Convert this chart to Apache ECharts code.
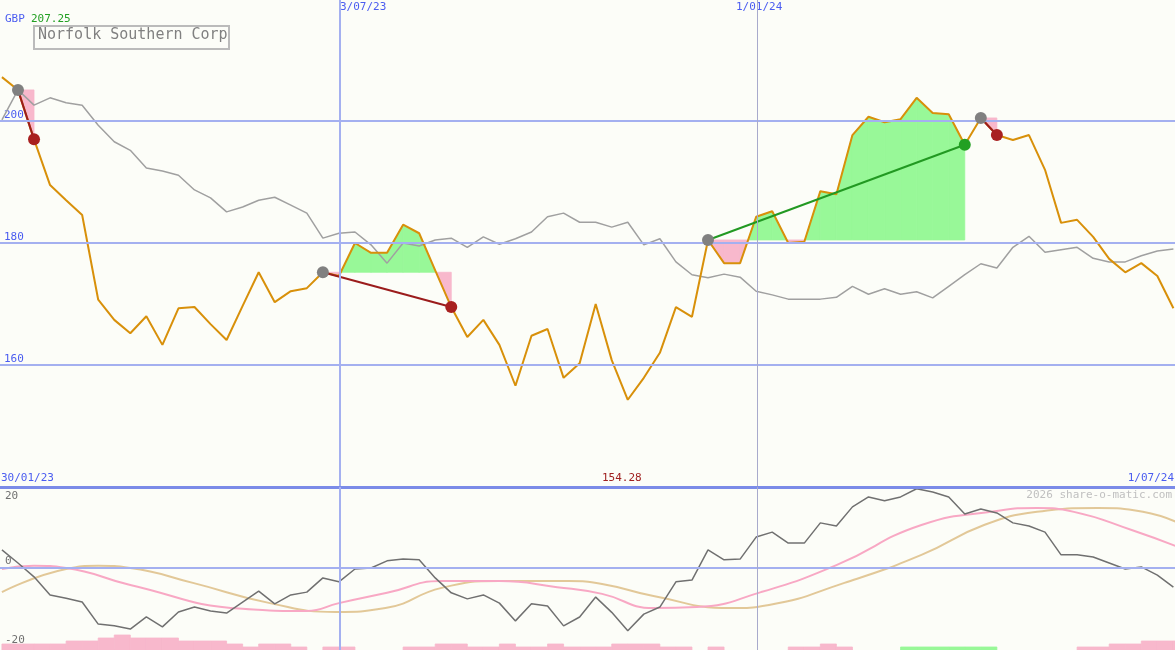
<!DOCTYPE html>
<html>
<head>
<meta charset="utf-8">
<script src="https://cdn.jsdelivr.net/npm/echarts@6/dist/echarts.min.js"></script>
<style>
html,body{margin:0;padding:0;background:#fcfdf8;}
#chart{width:1175px;height:650px;}
</style>
</head>
<body>
<div id="chart"></div>
<script>
// weekly closes, 30/01/23 .. 1/07/24
var price = [207.2,205.1,197.0,189.5,187.0,184.6,170.7,167.4,165.2,168.0,
	163.3,169.3,169.5,166.7,164.1,169.7,175.2,170.3,172.1,172.6,
	175.2,174.6,180.0,178.4,178.4,183.0,181.6,175.5,169.5,164.6,
	167.4,163.3,156.6,164.8,165.9,157.9,160.3,170.0,160.8,154.3,
	157.9,162.0,169.5,167.9,180.5,176.7,176.7,184.3,185.2,180.0,
	180.2,188.5,188.0,197.7,200.7,199.8,200.3,203.8,201.3,201.1,
	196.1,200.5,197.7,196.9,197.7,192.0,183.3,183.8,181.0,177.4,
	175.2,176.7,174.6,169.3];
var avg = [200.2,205.1,202.6,203.8,203.0,202.6,199.3,196.6,195.2,192.3,
	191.8,191.1,188.7,187.4,185.1,185.9,187.0,187.5,186.2,184.9,
	180.8,181.6,181.8,179.7,176.7,180.0,179.5,180.5,180.8,179.3,
	181.0,179.8,180.7,181.8,184.3,184.9,183.4,183.4,182.6,183.4,
	179.7,180.7,176.9,174.8,174.3,174.9,174.4,172.1,171.5,170.8,
	170.8,170.8,171.1,172.9,171.6,172.5,171.6,172.0,171.0,172.9,
	174.8,176.6,175.9,179.3,181.1,178.5,178.9,179.3,177.5,176.9,
	176.9,177.9,178.7,179.0];
var osc = [5.1,1.4,-2.5,-7.6,-8.5,-9.6,-15.8,-16.3,-17.2,-13.8,
	-16.6,-12.4,-11.0,-12.1,-12.7,-9.6,-6.5,-10.1,-7.6,-6.8,
	-2.8,-3.9,-0.3,0,2.0,2.5,2.3,-2.8,-7.0,-8.7,
	-7.6,-9.9,-14.9,-10.1,-10.7,-16.3,-13.8,-8.2,-12.5,-17.7,
	-13.0,-11.0,-3.9,-3.4,5.1,2.3,2.5,8.7,10.1,7.0,
	7.0,12.7,11.8,17.2,20.0,18.9,20.0,22.3,21.4,20.0,
	15.2,16.6,15.5,12.7,11.8,10.1,3.7,3.7,3.1,1.4,
	-0.3,0.3,-2.0,-5.4];
var oscFast = [[0,-0.3],[2,0.6],[4,0],[8,-4.8],[15,-11.5],[19,-12.1],[21,-9.9],[24,-7.0],
	[27.4,-3.7],[31,-3.7],[34.6,-5.4],[37.4,-7.3],[40.6,-11.3],[43.3,-11.0],[47.3,-6.8],
	[52,0.8],[57.3,12.1],[62.1,16.1],[64.5,16.9],[66.8,15.8],[70.4,10.7],[73.3,5.9]];
var oscSlow = [[0,-6.8],[4,-0.3],[6,0.6],[8,0],[11.9,-4.2],[16.7,-9.9],[20.8,-12.4],[23.9,-11.3],
	[27.4,-5.6],[31,-3.7],[35.3,-3.7],[37.4,-4.5],[40.6,-7.9],[45.4,-11.3],[47.8,-10.4],
	[52.5,-4.2],[57.3,3.7],[61.2,12.1],[64.5,15.8],[68.3,16.9],[71.1,15.8],[73.3,12.7]];
// volume-ish bars, negative = green
var barLevel = [2,2,2,2,3,3,4,5,4,4,4,3,3,3,2,1,2,2,1,0,
	1,1,0,0,0,1,1,2,2,1,1,2,1,1,2,1,1,1,2,2,
	2,1,1,0,1,0,0,0,0,1,1,2,1,0,0,0,-1,-1,-1,-1,
	-1,-1,0,0,0,0,0,1,1,2,2,3,3,3];
// [entry week, exit week]
var trades = [[1,2],[20,28],[44,60],[61,62]];
var priceLevels = [160,180,200];
var dateLines = [[21.07,'3/07/23',2],[47.07,'1/01/24',1]];

var X_MIN = -0.12, X_MAX = 73.1;
var OSC_MIN = -23.1;

var pricePts = price.map(function (v, i) { return [i, v]; });
var avgPts = avg.map(function (v, i) { return [i, v]; });
var oscPts = osc.map(function (v, i) { return [i, v]; });
var barPts = barLevel.map(function (v, i) { return [i, v]; });

var segs = [], entryPts = [], exitLoss = [], exitGain = [], lossLines = [], gainLines = [];
trades.forEach(function (t) {
	var b = price[t[0]];
	for (var k = t[0]; k < t[1]; k++) segs.push([k, price[k], price[k + 1], b]);
	entryPts.push([t[0], b]);
	var e = [t[1], price[t[1]]];
	if (price[t[1]] >= b) { exitGain.push(e); gainLines.push([[t[0], b], e]); }
	else { exitLoss.push(e); lossLines.push([[t[0], b], e]); }
});

function fillItem(params, api) {
	var k = api.value(0), v0 = api.value(1), v1 = api.value(2), b = api.value(3);
	var kids = [];
	function poly(pts, up) {
		var c = up ? '#98f898' : '#f8b8cc';
		kids.push({type: 'polygon', shape: {points: pts.map(function (p) { return api.coord(p); })},
			style: {fill: c, stroke: c, lineWidth: 0.8}});
	}
	if ((v0 - b) * (v1 - b) < 0) {
		var t = (b - v0) / (v1 - v0), xm = k + t;
		poly([[k, v0], [xm, b], [k, b]], v0 > b);
		poly([[xm, b], [k + 1, v1], [k + 1, b]], v1 > b);
	} else {
		poly([[k, v0], [k + 1, v1], [k + 1, b], [k, b]], (v0 + v1) / 2 >= b);
	}
	return {type: 'group', children: kids};
}

function barItem(params, api) {
	var k = api.value(0), lv = api.value(1);
	if (!lv) return;
	var h = Math.abs(lv) * 0.845;
	var p0 = api.coord([k, OSC_MIN + h]), p1 = api.coord([k + 1, OSC_MIN]);
	var c = lv < 0 ? '#98f898' : '#f8b8cc';
	return {type: 'rect', shape: {x: p0[0], y: p0[1], width: p1[0] - p0[0], height: p1[1] - p0[1]},
		style: {fill: c, stroke: c, lineWidth: 0.8}};
}

function vLines() {
	return dateLines.map(function (d) {
		return {xAxis: d[0], lineStyle: {color: d[2] > 1 ? '#a4b0f0' : '#a8aacc', width: d[2], type: 'solid'}};
	});
}

var font = '"DejaVu Sans Mono", monospace';
var myChart = echarts.init(document.getElementById('chart'));
var option = {
	backgroundColor: '#fcfdf8',
	animation: false,
	grid: [
		{left: 0, right: 0, top: 0, height: 487, outerBoundsMode: 'none', containLabel: false},
		{left: 0, right: 0, top: 487, height: 163, outerBoundsMode: 'none', containLabel: false}
	],
	xAxis: [
		{type: 'value', gridIndex: 0, min: X_MIN, max: X_MAX, show: false},
		{type: 'value', gridIndex: 1, min: X_MIN, max: X_MAX, show: false}
	],
	yAxis: [
		{type: 'value', gridIndex: 0, min: 140, max: 219.84, interval: 20,
			axisLine: {show: false}, axisTick: {show: false}, splitLine: {show: false},
			axisLabel: {inside: true, margin: 4, verticalAlign: 'bottom', color: '#4a5cf0',
				fontFamily: font, fontSize: 11,
				formatter: function (v) { return priceLevels.indexOf(v) < 0 ? '' : v; }}},
		{type: 'value', gridIndex: 1, min: OSC_MIN, max: 22.8, show: false}
	],
	graphic: [
		{type: 'text', left: 5, top: 14, style: {text: 'GBP', fill: '#4a5cf0', font: '11px ' + font}},
		{type: 'text', left: 31, top: 14, style: {text: '207.25', fill: '#22a022', font: '11px ' + font}},
		{type: 'rect', left: 33, top: 25, shape: {width: 195, height: 23},
			style: {fill: '#fcfdf8', stroke: '#bbbbbb', lineWidth: 2}},
		{type: 'text', left: 38, top: 28, style: {text: 'Norfolk Southern Corp', fill: '#808080', font: '15px ' + font}},
		{type: 'text', left: 340, top: 2, style: {text: '3/07/23', fill: '#4a5cf0', font: '11px ' + font, align: 'center'}},
		{type: 'text', left: 736, top: 2, style: {text: '1/01/24', fill: '#4a5cf0', font: '11px ' + font}},
		{type: 'text', left: 1, top: 473, style: {text: '30/01/23', fill: '#4a5cf0', font: '11px ' + font}},
		{type: 'text', left: 602, top: 473, style: {text: '154.28', fill: '#a02020', font: '11px ' + font}},
		{type: 'text', right: 1, top: 473, style: {text: '1/07/24', fill: '#4a5cf0', font: '11px ' + font}},
		{type: 'text', right: 3, top: 490, style: {text: '2026 share-o-matic.com', fill: '#c0c0c0', font: '11px ' + font}},
		{type: 'text', left: 5, top: 491, style: {text: '20', fill: '#707070', font: '11px ' + font}},
		{type: 'text', left: 5, top: 556, style: {text: '0', fill: '#707070', font: '11px ' + font}},
		{type: 'text', left: 5, top: 635, style: {text: '-20', fill: '#707070', font: '11px ' + font}}
	],
	series: [
		{type: 'custom', xAxisIndex: 0, yAxisIndex: 0, renderItem: fillItem, data: segs, z: 1},
		{type: 'line', xAxisIndex: 0, yAxisIndex: 0, data: avgPts, showSymbol: false,
			lineStyle: {color: '#a0a0a0', width: 1.5}, z: 2,
			markLine: {silent: true, symbol: 'none', label: {show: false},
				data: priceLevels.map(function (v) {
					return {yAxis: v, lineStyle: {color: '#a4b0f0', width: 2, type: 'solid'}};
				}).concat(vLines())}},
		{type: 'line', xAxisIndex: 0, yAxisIndex: 0, data: pricePts, showSymbol: false,
			lineStyle: {color: '#d8900a', width: 2}, z: 3},
		{type: 'lines', coordinateSystem: 'cartesian2d', xAxisIndex: 0, yAxisIndex: 0, z: 4,
			data: lossLines.map(function (c) { return {coords: c}; }),
			lineStyle: {color: '#9b1c1c', width: 2, opacity: 1}},
		{type: 'lines', coordinateSystem: 'cartesian2d', xAxisIndex: 0, yAxisIndex: 0, z: 4,
			data: gainLines.map(function (c) { return {coords: c}; }),
			lineStyle: {color: '#229922', width: 2, opacity: 1}},
		{type: 'scatter', xAxisIndex: 0, yAxisIndex: 0, data: entryPts, symbolSize: 12,
			itemStyle: {color: '#808080', opacity: 1}, z: 5},
		{type: 'scatter', xAxisIndex: 0, yAxisIndex: 0, data: exitLoss, symbolSize: 12,
			itemStyle: {color: '#a82020', opacity: 1}, z: 5},
		{type: 'scatter', xAxisIndex: 0, yAxisIndex: 0, data: exitGain, symbolSize: 12,
			itemStyle: {color: '#22a022', opacity: 1}, z: 5},

		{type: 'custom', xAxisIndex: 1, yAxisIndex: 1, renderItem: barItem, data: barPts, z: 1},
		{type: 'line', xAxisIndex: 1, yAxisIndex: 1, data: oscSlow, smooth: true, showSymbol: false,
			lineStyle: {color: '#e2c898', width: 2}, z: 2,
			markLine: {silent: true, symbol: 'none', label: {show: false},
				data: [
					{yAxis: 0, lineStyle: {color: '#a4b0f0', width: 2, type: 'solid'}},
					{yAxis: 22.8, lineStyle: {color: '#7b8be8', width: 3, type: 'solid'}}
				].concat(vLines())}},
		{type: 'line', xAxisIndex: 1, yAxisIndex: 1, data: oscFast, smooth: true, showSymbol: false,
			lineStyle: {color: '#f8a8c4', width: 2}, z: 3},
		{type: 'line', xAxisIndex: 1, yAxisIndex: 1, data: oscPts, showSymbol: false,
			lineStyle: {color: '#707070', width: 1.5}, z: 4}
	]
};
myChart.setOption(option);
window.addEventListener("resize", function () {
	myChart.resize();
});
</script>
</body>
</html>
